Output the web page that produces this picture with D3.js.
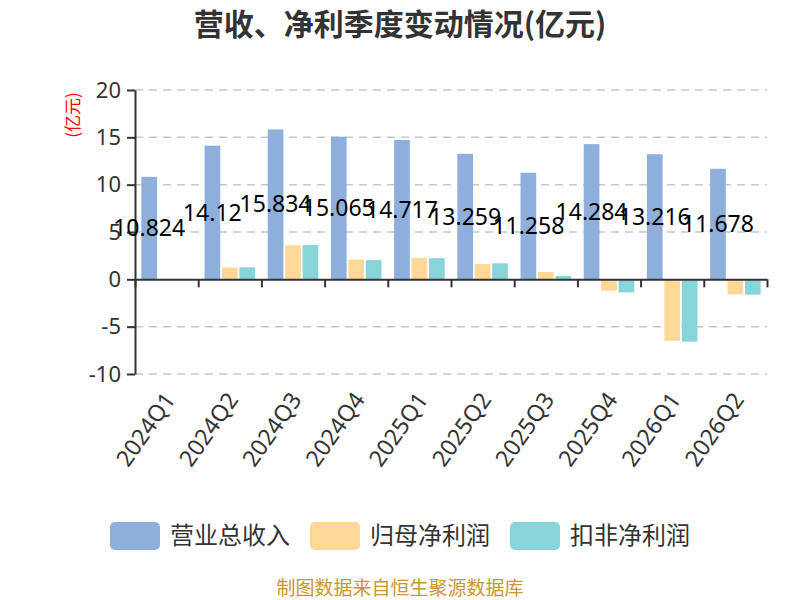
<!DOCTYPE html>
<html>
<head>
<meta charset="utf-8">
<script src="https://cdn.jsdelivr.net/npm/d3@7/dist/d3.min.js"></script>
<style>
  html, body { margin: 0; padding: 0; background: #fff; }
  svg { display: block; font-family: "Noto Sans CJK SC", "Noto Sans", sans-serif; }
</style>
</head>
<body>
<svg id="chart" width="800" height="600"></svg>
<script>
const categories = ["2024Q1", "2024Q2", "2024Q3", "2024Q4", "2025Q1", "2025Q2", "2025Q3", "2025Q4", "2026Q1", "2026Q2"];
const seriesNames = ["营业总收入", "归母净利润", "扣非净利润"];
const revenue = [10.824, 14.12, 15.834, 15.065, 14.717, 13.259, 11.258, 14.284, 13.216, 11.678];
const netProfit = [0.05, 1.25, 3.6, 2.08, 2.26, 1.62, 0.77, -1.2, -6.5, -1.6];
const deductedProfit = [0.04, 1.27, 3.62, 2.03, 2.23, 1.69, 0.35, -1.38, -6.58, -1.62];
const yTicks = [-10, -5, 0, 5, 10, 15, 20];
const colors = ["#8eaedb", "#ffd898", "#88d5d9"];
const titleText = "营收、净利季度变动情况(亿元)";
const yUnit = "(亿元)";
const footerText = "制图数据来自恒生聚源数据库";

const seriesValues = [revenue, netProfit, deductedProfit];
const svg = d3.select("#chart");

const x = d3.scaleBand().domain(categories).range([135, 767]).padding(0);
const bw = x.bandwidth();
const xs = d3.scaleBand().domain(seriesNames).range([bw * 0.1, bw * 0.9]).paddingInner(0.1);
const y = d3.scaleLinear().domain([-10, 20]).range([374, 90]);

// title
svg.append("text").attr("x", 400).attr("y", 35).attr("text-anchor", "middle")
  .attr("font-size", 30).attr("font-weight", "bold").attr("fill", "#333").text(titleText);

// grid lines
svg.append("g").selectAll("line").data(yTicks.filter(d => d !== 0)).join("line")
  .attr("x1", 135).attr("x2", 767).attr("y1", d => y(d)).attr("y2", d => y(d))
  .attr("stroke", "#c8c8c8").attr("stroke-width", 1.5).attr("stroke-dasharray", "8,6");

// bars
const groups = svg.append("g").selectAll("g").data(seriesNames).join("g")
  .attr("fill", (d, i) => colors[i]);
groups.each(function (name, si) {
  d3.select(this).selectAll("rect").data(seriesValues[si]).join("rect")
    .attr("x", (d, i) => x(categories[i]) + xs(name))
    .attr("width", xs.bandwidth())
    .attr("y", d => Math.min(y(d), y(0)))
    .attr("height", d => Math.abs(y(d) - y(0)));
});

// y axis
const yAxis = d3.axisLeft(y).tickValues(yTicks).tickSize(8).tickPadding(6).tickSizeOuter(0)
  .tickFormat(d => String(d));
const gy = svg.append("g").attr("transform", "translate(135,0)").call(yAxis);
gy.select(".domain").attr("stroke", "#333").attr("stroke-width", 2);
gy.selectAll(".tick line").attr("stroke", "#333").attr("stroke-width", 2);
gy.selectAll(".tick text").attr("font-size", 22).attr("fill", "#333")
  .attr("font-family", "'Noto Sans', sans-serif");

// x axis at zero
const xAxis = d3.axisBottom(d3.scaleLinear().domain([0, categories.length]).range([135, 767]))
  .tickValues(d3.range(0, categories.length + 1)).tickSize(8).tickFormat("").tickSizeOuter(0);
const gx = svg.append("g").attr("transform", `translate(0,${y(0)})`).call(xAxis);
gx.select(".domain").attr("stroke", "#333").attr("stroke-width", 2);
gx.selectAll(".tick line").attr("stroke", "#333").attr("stroke-width", 2);

// x labels (bottom)
svg.append("g").selectAll("text").data(categories).join("text")
  .attr("transform", d => `translate(${x(d) + bw / 2 + 3},395) rotate(-55)`)
  .attr("text-anchor", "end").attr("dy", "0.35em")
  .attr("font-size", 23).attr("fill", "#333")
  .attr("font-family", "'Noto Sans', sans-serif").text(d => d);

// revenue value labels (inside, centered)
svg.append("g").selectAll("text").data(revenue).join("text")
  .attr("x", (d, i) => x(categories[i]) + xs(seriesNames[0]) + xs.bandwidth() / 2)
  .attr("y", d => (y(d) + y(0)) / 2)
  .attr("dy", "0.35em").attr("text-anchor", "middle")
  .attr("font-size", 23).attr("fill", "#000")
  .attr("font-family", "'Noto Sans', sans-serif").text(d => d);

// y unit label
svg.append("text").attr("transform", "translate(73,115) rotate(-90)")
  .attr("text-anchor", "middle").attr("dy", "0.35em")
  .attr("font-size", 17).attr("fill", "#ff0000").text(yUnit);

// legend
const legend = svg.append("g").selectAll("g").data(seriesNames).join("g")
  .attr("transform", (d, i) => `translate(${110 + i * 200},522)`);
legend.append("rect").attr("width", 50).attr("height", 28).attr("rx", 5)
  .attr("fill", (d, i) => colors[i]);
legend.append("text").attr("x", 60).attr("y", 14).attr("dy", "0.35em")
  .attr("font-size", 24).attr("fill", "#333").text(d => d);

// footer
svg.append("text").attr("x", 400).attr("y", 595).attr("text-anchor", "middle")
  .attr("font-size", 19).attr("fill", "#c9962f").text(footerText);
</script>
</body>
</html>
